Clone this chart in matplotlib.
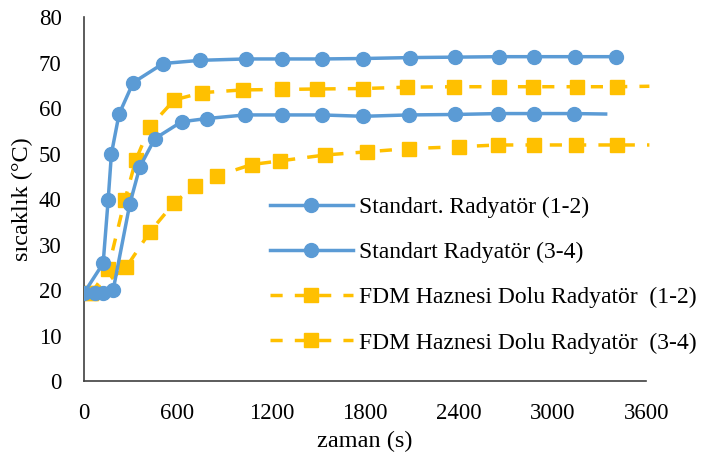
import matplotlib
matplotlib.use("Agg")
import matplotlib.pyplot as plt

# Standart Radyatör (1-2)
std12Time = [0, 124, 156, 177, 226, 316, 508, 744, 1036, 1267, 1523, 1790, 2085, 2378, 2655, 2880, 3147, 3404]
std12Temp = [19.3, 25.9, 39.8, 50.0, 58.7, 65.6, 69.8, 70.5, 70.8, 70.8, 70.8, 70.9, 71.1, 71.2, 71.3, 71.3, 71.3, 71.3]

# Standart Radyatör (3-4), last point has no marker
std34Time = [70, 120, 188, 295, 359, 455, 626, 786, 1032, 1267, 1523, 1790, 2079, 2378, 2649, 2880, 3136, 3340]
std34Temp = [19.3, 19.4, 20.0, 39.0, 47.1, 53.3, 57.0, 57.7, 58.5, 58.5, 58.5, 58.2, 58.5, 58.6, 58.8, 58.8, 58.8, 58.7]

# FDM Haznesi Dolu Radyatör (1-2)
fdm12Time = [49, 156, 263, 333, 423, 579, 757, 1017, 1267, 1492, 1785, 2068, 2372, 2655, 2874, 3158, 3414, 3620]
fdm12Temp = [19.3, 24.7, 39.8, 48.6, 55.9, 61.8, 63.4, 64.0, 64.1, 64.2, 64.3, 64.6, 64.7, 64.7, 64.7, 64.7, 64.7, 64.8]

# FDM Haznesi Dolu Radyatör (3-4)
fdm34Time = [49, 273, 423, 579, 712, 851, 1075, 1256, 1545, 1812, 2079, 2399, 2649, 2880, 3152, 3414, 3620]
fdm34Temp = [19.3, 25.1, 32.8, 39.2, 42.9, 45.1, 47.6, 48.4, 49.7, 50.4, 51.1, 51.5, 51.9, 51.9, 51.9, 51.9, 51.9]

xTicks = [0, 600, 1200, 1800, 2400, 3000, 3600]
yTicks = [0, 10, 20, 30, 40, 50, 60, 70, 80]

blue = "#5B9BD5"
orange = "#FFC000"
dash = (0, (3.5, 3.5))

plt.rcParams["font.family"] = ["Liberation Serif", "DejaVu Serif"]

fig = plt.figure(figsize=(7.04, 4.62), dpi=100)
ax = fig.add_axes([0.119, 0.175, 0.799, 0.788])

ax.plot(std12Time, std12Temp, color=blue, lw=2.5, marker="o", ms=10,
        label="Standart. Radyatör (1-2)", zorder=3)
ax.plot(std34Time, std34Temp, color=blue, lw=2.5, marker="o", ms=10,
        markevery=list(range(len(std34Time) - 1)),
        label="Standart Radyatör (3-4)", zorder=3)
ax.plot(fdm12Time, fdm12Temp, color=orange, lw=2.5, ls=dash, marker="s", ms=10,
        markevery=list(range(len(fdm12Time) - 1)), clip_on=False,
        label="FDM Haznesi Dolu Radyatör  (1-2)", zorder=2)
ax.plot(fdm34Time, fdm34Temp, color=orange, lw=2.5, ls=dash, marker="s", ms=10,
        markevery=list(range(len(fdm34Time) - 1)), clip_on=False,
        label="FDM Haznesi Dolu Radyatör  (3-4)", zorder=2)

ax.set_xlim(0, 3600)
ax.set_ylim(0, 80)
ax.set_xticks(xTicks)
ax.set_yticks(yTicks)
ax.tick_params(length=0, labelsize=16.5)
ax.tick_params(axis="x", pad=16)
ax.tick_params(axis="y", pad=16)
ax.spines["top"].set_visible(False)
ax.spines["right"].set_visible(False)
for side in ["left", "bottom"]:
    ax.spines[side].set_color("#404040")
    ax.spines[side].set_linewidth(1.2)

ax.set_xlabel("zaman (s)", fontsize=17.5, labelpad=5)
ax.set_ylabel("sıcaklık (°C)", fontsize=17.5, labelpad=4)

ax.legend(loc="upper left", bbox_to_anchor=(0.331, 0.507), frameon=False, borderpad=0,
          borderaxespad=0, fontsize=17, handlelength=3.5, labelspacing=1.0,
          handletextpad=0.25)

fig.savefig("out.png", dpi=100)
